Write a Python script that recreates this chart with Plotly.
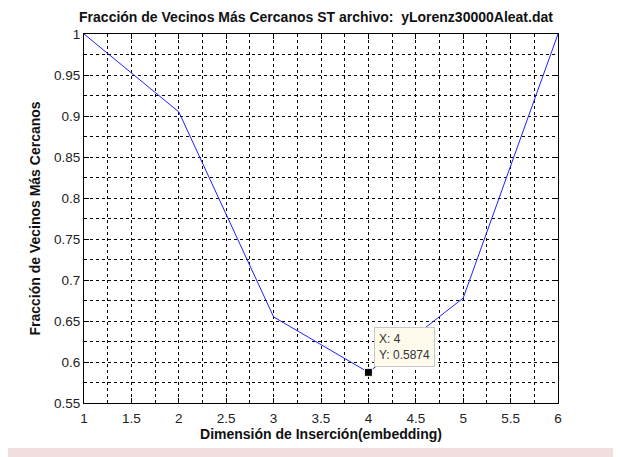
import plotly.graph_objects as go

dims = [1, 2, 3, 4, 5, 6]
fnn = [1.0, 0.905, 0.655, 0.5874, 0.678, 1.0]
x_ticks = [1, 1.5, 2, 2.5, 3, 3.5, 4, 4.5, 5, 5.5, 6]
y_ticks = [0.55, 0.6, 0.65, 0.7, 0.75, 0.8, 0.85, 0.9, 0.95, 1]
tip_x = 4
tip_y = 0.5874

# page body has an 8px margin, so the figure is drawn offset by (8, 8)
OFF = 8
W, H = 621 - OFF, 457 - OFF
L, T = 84 - OFF, 34 - OFF
R = W - (558 - OFF)
B = H - (403 - OFF)
pw, ph = W - L - R, H - T - B

def px(xp):
    return (xp - OFF - L) / pw

def py(yp):
    return 1 - (yp - OFF - T) / ph

fig = go.Figure()
fig.add_trace(go.Scatter(x=dims, y=fnn, mode="lines",
                         line=dict(color="#2020ff", width=1), hoverinfo="skip"))
fig.add_trace(go.Scatter(x=[tip_x], y=[tip_y], mode="markers",
                         marker=dict(symbol="square", color="black", size=8,
                                     line=dict(color="white", width=1)),
                         hoverinfo="skip"))

font = "Liberation Sans, Arial, sans-serif"
axis_common = dict(
    showline=True, linecolor="black", linewidth=1, mirror="ticks",
    ticks="inside", ticklen=5, tickcolor="black",
    showgrid=True, gridcolor="black", gridwidth=1, griddash="3px,3px",
    zeroline=False,
    tickfont=dict(family=font, size=13.5, color="#222"),
)

fig.update_layout(
    width=W, height=H,
    margin=dict(l=L, r=R, t=T, b=B),
    paper_bgcolor="white", plot_bgcolor="white",
    showlegend=False,
    title=dict(text="<b>Fracción de Vecinos Más Cercanos ST archivo:  yLorenz30000Aleat.dat</b>",
               x=(316 - OFF) / W, xanchor="center", y=1 - (17 - OFF) / H, yanchor="middle",
               font=dict(family=font, size=14, color="#111")),
    xaxis=dict(range=[1, 6], tickvals=x_ticks, ticktext=[f"{v:g}" for v in x_ticks],
               ticklabelstandoff=3,
               minor=dict(dtick=0.25, showgrid=True, gridcolor="black", griddash="3px,3px", ticks=""),
               title=dict(text="<b>Dimensión de Inserción(embedding)</b>", standoff=2,
                          font=dict(family=font, size=14, color="#111")),
               **axis_common),
    yaxis=dict(range=[0.55, 1], tickvals=y_ticks, ticktext=[f"{v:g}" for v in y_ticks],
               minor=dict(dtick=0.025, tick0=0.55, showgrid=True, gridcolor="black", griddash="3px,3px", ticks=""),
               title=dict(text="<b>Fracción de Vecinos Más Cercanos</b>", standoff=10,
                          font=dict(family=font, size=14, color="#111")),
               **axis_common),
)

fig.add_annotation(x=tip_x, y=tip_y, xref="x", yref="y",
                   text="X: 4<br>Y: 0.5874", showarrow=False, align="left",
                   xanchor="left", yanchor="bottom", xshift=6, yshift=5,
                   bgcolor="#fffbec", bordercolor="#c8c8c8", borderwidth=1, borderpad=4,
                   font=dict(family=font, size=12, color="#333"))

pink = "#f2e0e0"
shapes = [
    dict(x0=px(615), x1=px(621), y0=py(457), y1=py(OFF)),
    dict(x0=px(OFF), x1=px(621), y0=py(457), y1=py(448)),
]
for s in shapes:
    fig.add_shape(type="rect", xref="paper", yref="paper", fillcolor=pink,
                  line=dict(width=0), layer="below", **s)

fig.write_html("out.html")
